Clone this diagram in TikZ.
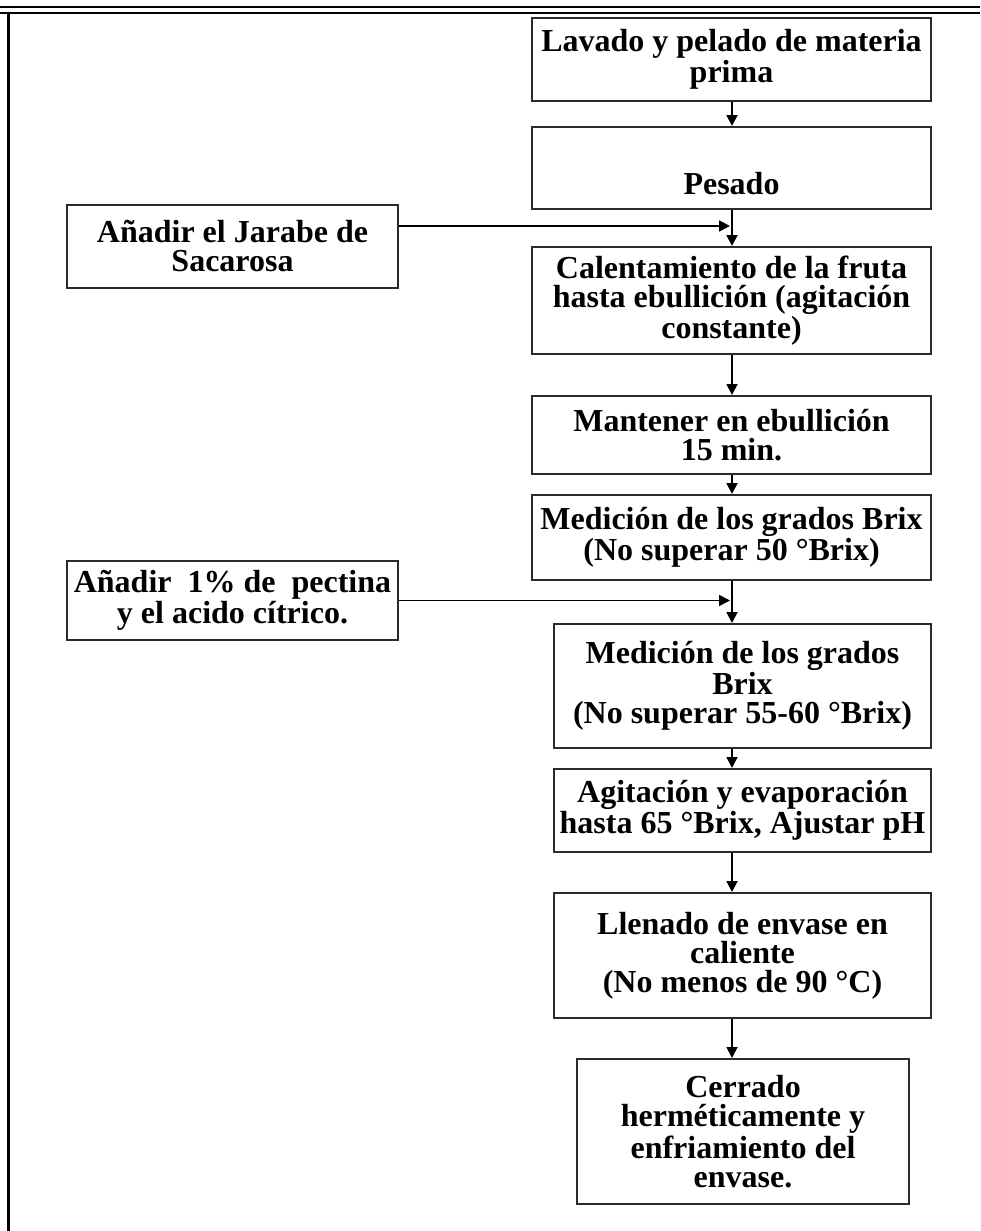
\documentclass[tikz,border=0pt]{standalone}
\usepackage{fontspec}
\setmainfont{Liberation Serif}
\usepackage{tikz}
\usetikzlibrary{arrows.meta}
\definecolor{BoxLine}{HTML}{2B2B2B}
\definecolor{RuleLine}{HTML}{000000}

\begin{document}
\begin{tikzpicture}[
  x=0.5pt, y=-0.5pt,
  stepbox/.style={draw=BoxLine, line width=1pt, fill=white, inner sep=2pt, align=center,
    font=\bfseries\fontsize{16}{14.5}\selectfont},
  mainbox/.style={stepbox, minimum width=199.5pt},
  lowbox/.style={stepbox, minimum width=188.5pt},
  addbox/.style={stepbox, minimum width=165.5pt},
  arrow/.style={-{Triangle[length=5.5pt,width=5.5pt]}, draw=black, line width=0.9pt},
  rule/.style={draw=RuleLine, line width=1.1pt}
]
\useasboundingbox (0,0) rectangle (980,1231);
% page frame
\draw[rule] (0,7) -- (980,7);
\draw[rule] (0,13) -- (980,13);
\draw[rule] (8.5,13) -- (8.5,1231);
\coordinate (spine) at (732,0);
% main line
\node[mainbox, minimum height=41.5pt] (lavado) at (731.5,59.5) {Lavado y pelado de materia\\prima};
\node[mainbox, minimum height=41pt] (pesado) at (731.5,168) {\strut\\Pesado};
\node[mainbox, minimum height=53.5pt] (calentar) at (731.5,300.5) {Calentamiento de la fruta\\hasta ebullición (agitación\\constante)};
\node[mainbox, minimum height=39pt] (mantener) at (731.5,435) {Mantener en ebullición\\15 min.};
\node[mainbox, minimum height=42.5pt] (brixa) at (731.5,537.5) {Medición de los grados Brix\\(No superar 50 °Brix)};
\node[lowbox, minimum height=62pt] (brixb) at (742.5,686) {Medición de los grados\\Brix\\ (No superar 55-60 °Brix)};
\node[lowbox, minimum height=41.5pt] (agitar) at (742.5,810.5) {Agitación y evaporación\\hasta 65 °Brix, Ajustar pH};
\node[lowbox, minimum height=62.5pt] (llenado) at (742.5,955.5) {Llenado de envase en\\caliente\\(No menos de 90 °C)};
\node[stepbox, minimum width=166pt, minimum height=72.5pt] (cerrado) at (743,1131.5) {Cerrado\\herméticamente y\\enfriamiento del\\envase.};
% additions
\node[addbox, minimum height=41.5pt] (jarabe) at (232.5,246.5) {Añadir el Jarabe de\\Sacarosa};
\node[addbox, minimum height=39.5pt] (pectina) at (232.5,600.5) {Añadir~~1\% de~~pectina\\y el acido cítrico.};
% connectors
\draw[arrow] (lavado.south -| spine) -- (pesado.north -| spine);
\draw[arrow] (pesado.south -| spine) -- (calentar.north -| spine);
\draw[arrow] (calentar.south -| spine) -- (mantener.north -| spine);
\draw[arrow] (mantener.south -| spine) -- (brixa.north -| spine);
\draw[arrow] (brixa.south -| spine) -- (brixb.north -| spine);
\draw[arrow] (brixb.south -| spine) -- (agitar.north -| spine);
\draw[arrow] (agitar.south -| spine) -- (llenado.north -| spine);
\draw[arrow] (llenado.south -| spine) -- (cerrado.north -| spine);
\draw[arrow, shorten >=1pt] ([yshift=10.25pt]jarabe.east) -- ([yshift=10.25pt]jarabe.east -| spine);
\draw[arrow, shorten >=1pt] (pectina.east) -- (pectina.east -| spine);
\end{tikzpicture}
\end{document}
